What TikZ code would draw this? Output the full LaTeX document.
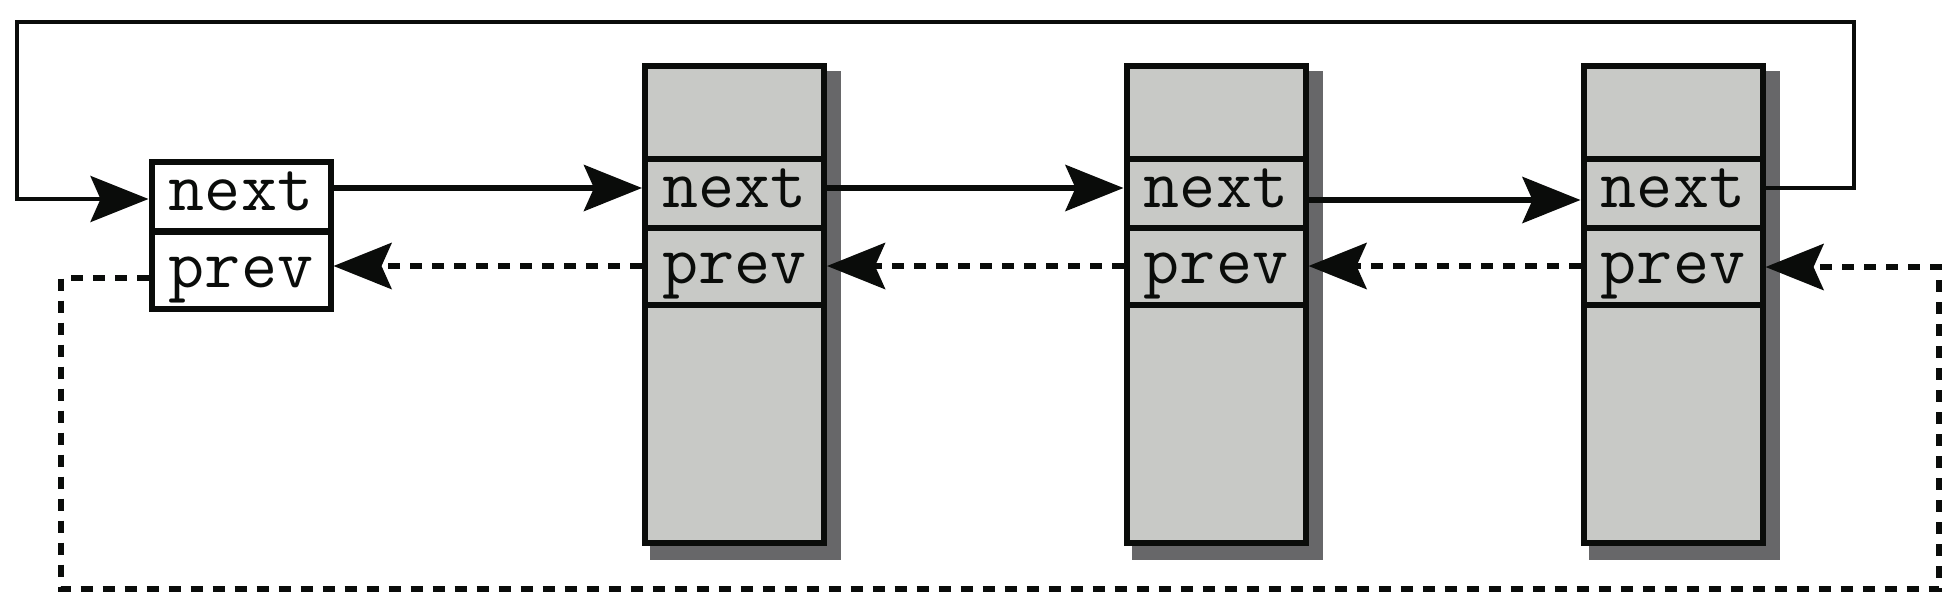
\documentclass[tikz,border=0pt]{standalone}
\usepackage{fontspec}
\usetikzlibrary{arrows.meta,backgrounds}
\definecolor{boxgray}{RGB}{200,201,198}
\definecolor{shadowgray}{RGB}{103,103,105}
\definecolor{ink}{RGB}{10,12,10}
\begin{document}
\begin{tikzpicture}[x=1pt,y=-1pt,
  field/.style={draw=ink, line width=6pt, minimum width=179pt, inner sep=0pt,
    font=\fontsize{70pt}{70pt}\selectfont\ttfamily, text=ink, text depth=0pt},
  nextfield/.style={field, minimum height=69pt, text height=27pt},
  prevfield/.style={field, minimum height=77pt, text height=35pt},
  cell/.style={draw=ink, line width=6pt, fill=boxgray, minimum width=179pt,
    minimum height=477pt, inner sep=0pt},
  tip/.style={-{Stealth[length=58pt,width=46pt,inset=10pt]}},
  nextline/.style={draw=ink, line width=6pt, tip},
  loopline/.style={draw=ink, line width=4pt, line join=miter, tip},
  prevline/.style={draw=ink, line width=6pt, dash pattern=on 12pt off 10pt, line join=miter, tip}
]
\useasboundingbox (0,0) rectangle (1958,614);

% head node
\node[nextfield, fill=white] (hnext) at (241,196.5) {next};
\node[prevfield, fill=white] (hprev) at (241,270) {prev};

% gray nodes
\node[cell] (n1) at (734.5,304.5) {};
\node[cell] (n2) at (1216,304.5) {};
\node[cell] (n3) at (1673,304.5) {};
\foreach \n in {n1,n2,n3}{
  \node[nextfield, fill=boxgray] (\n next) at (\n.center |- 0,193.5) {next};
  \node[prevfield, fill=boxgray] (\n prev) at (\n.center |- 0,266) {prev};
}

\begin{scope}[on background layer]
  \fill[white] (0,0) rectangle (1958,614);
  \foreach \n in {n1,n2,n3}{
    \fill[shadowgray] ([shift={(8,8)}]\n.north west) rectangle ([shift={(14,14)}]\n.south east);
  }
\end{scope}

% next pointers
\draw[nextline] (hnext.east |- 0,188) -- (n1next.west |- 0,188);
\draw[nextline] (n1next.east |- 0,188) -- (n2next.west |- 0,188);
\draw[nextline] (n2next.east |- 0,200) -- (n3next.west |- 0,200);
\coordinate (tr) at (1854,188);
\coordinate (tl) at (17,22);
\draw[loopline] (n3next.east |- tr) -- (tr) -- (tr |- tl) -- (tl) -- (tl |- 0,199) -- (hnext.west |- 0,199);

% prev pointers
\draw[prevline] (n1prev.west) -- (hprev.east |- n1prev.west);
\draw[prevline] (n2prev.west) -- (n1prev.east |- n2prev.west);
\draw[prevline] (n3prev.west) -- (n2prev.east |- n3prev.west);
\coordinate (bl) at (61,589);
\coordinate (br) at (1939,589);
\draw[prevline] (hprev.west |- 0,278) -- (bl |- 0,278) -- (bl) -- (br) -- (br |- 0,267) -- (n3prev.east |- 0,267);
\end{tikzpicture}
\end{document}
